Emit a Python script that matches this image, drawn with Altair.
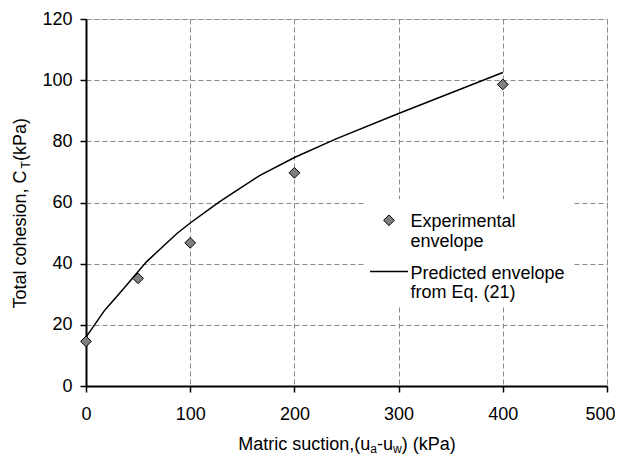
import altair as alt
import pandas as pd

# ---- data ----
exp_x = [0, 50, 100, 200, 400]
exp_y = [14.6, 35.2, 46.8, 69.7, 98.6]

pred_x = [0, 18, 36, 58, 87, 100, 119, 128, 140, 167, 200, 240, 300, 400]
pred_y = [16.0, 24.8, 31.8, 40.6, 49.8, 53.3, 58.0, 60.2, 62.9, 68.9, 74.7, 80.8, 89.1, 102.5]

x_ticks = [0, 100, 200, 300, 400, 500]
y_ticks = [0, 20, 40, 60, 80, 100, 120]

legend_exp = ["Experimental", "envelope"]
legend_pred = ["Predicted envelope", "from Eq. (21)"]

x_title_parts = [("Matric suction,(u", False), ("a", True), ("-u", False), ("w", True), (") (kPa)", False)]
y_title_parts = [("Total cohesion, C", False), ("T", True), ("  (kPa)", False)]

# ---- layout ----
W, H = 521, 367
FONT = "Liberation Sans"
TICK_FS = 18
TITLE_FS = 18
SUB_FS = 12
LEG_FS = 18

# Arial / Liberation Sans advance widths (per 1000 em)
ADV = {'M': 833, 'a': 556, 't': 278, 'r': 333, 'i': 222, 'c': 500, ' ': 278, 's': 500,
       'u': 556, 'o': 556, 'n': 556, ',': 278, '(': 333, ')': 333, '-': 333, 'w': 722,
       'k': 500, 'P': 667, 'T': 611, 'l': 222, 'h': 556, 'e': 556, 'C': 722}


def text_w(s, fs):
    return sum(ADV.get(ch, 556) for ch in s) * fs / 1000.0


exp_df = pd.DataFrame({"x": exp_x, "y": exp_y})
pred_df = pd.DataFrame({"x": pred_x, "y": pred_y})

xs = alt.Scale(domain=[0, 500], nice=False)
ys = alt.Scale(domain=[0, 120], nice=False)

common_axis = dict(title=None, grid=True, gridDash=[5, 3], gridColor="#8a8a8a", gridWidth=1,
                   domainColor="black", domainWidth=2, tickColor="black", tickWidth=1.5, tickSize=6,
                   labelFont=FONT, labelFontSize=TICK_FS, labelColor="black",
                   labelFlush=False, labelOverlap=False)
base_x = alt.X("x:Q", scale=xs, axis=alt.Axis(
    values=x_ticks, labelPadding=13,
    labelOffset={"condition": {"test": "datum.value == 500", "value": -7}, "value": 0},
    **common_axis))
base_y = alt.Y("y:Q", scale=ys, axis=alt.Axis(values=y_ticks, labelPadding=8, **common_axis))

line = alt.Chart(pred_df).mark_line(color="black", strokeWidth=1.5).encode(x=base_x, y=base_y)
pts = alt.Chart(exp_df).mark_point(shape="diamond", filled=True, fill="#808080", stroke="black",
                                   strokeWidth=1, size=115, opacity=1).encode(x="x:Q", y="y:Q")

one = pd.DataFrame({"a": [0]})


def txt(s, x, y, fs, angle=0, align="left", baseline="alphabetic"):
    kw = dict(text=s, font=FONT, fontSize=fs, color="black", align=align, baseline=baseline)
    if angle:
        kw["angle"] = angle
    return alt.Chart(one).mark_text(**kw).encode(x=alt.value(x), y=alt.value(y))


layers = [line, pts]

# legend box (white, hides grid)
lx0, lx1, ly0, ly1 = 279, 488, 180, 288
layers.append(alt.Chart(one).mark_rect(color="white").encode(
    x=alt.value(lx0), x2=alt.value(lx1), y=alt.value(ly0), y2=alt.value(ly1)))
layers.append(alt.Chart(one).mark_point(shape="diamond", filled=True, fill="#808080", stroke="black",
                                        strokeWidth=1, size=115, opacity=1).encode(
    x=alt.value(303), y=alt.value(201.3)))
layers.append(alt.Chart(one).mark_rule(color="black", strokeWidth=1.5).encode(
    x=alt.value(284), x2=alt.value(322), y=alt.value(252.5)))
tx = 324.5
layers.append(txt(legend_exp[0], tx, 208, LEG_FS))
layers.append(txt(legend_exp[1], tx, 228, LEG_FS))
layers.append(txt(legend_pred[0], tx, 259.6, LEG_FS))
layers.append(txt(legend_pred[1], tx, 278.5, LEG_FS))

# x title with subscripts
tot = sum(text_w(s, SUB_FS if sub else TITLE_FS) for s, sub in x_title_parts)
cx = 261
cur = cx - tot / 2
for s, sub in x_title_parts:
    fs = SUB_FS if sub else TITLE_FS
    layers.append(txt(s, cur, 431 + (3 if sub else 0), fs))
    cur += text_w(s, fs)

# y title with subscript (rotated, reading upward)
tot = sum(text_w(s, SUB_FS if sub else TITLE_FS) for s, sub in y_title_parts)
cy = 189.3
cur = cy + tot / 2
for s, sub in y_title_parts:
    fs = SUB_FS if sub else TITLE_FS
    layers.append(txt(s, -60.5 + (4 if sub else 0), cur, fs, angle=270))
    cur -= text_w(s, fs)

chart = alt.layer(*layers).properties(
    width=W, height=H,
    autosize=alt.AutoSizeParams(type="none"),
    padding={"left": 78, "top": 11, "right": 8, "bottom": 70},
).configure_view(stroke="black", strokeWidth=1.5).configure(background="white")

chart.save("out.html", embed_options={"renderer": "svg", "actions": False})
